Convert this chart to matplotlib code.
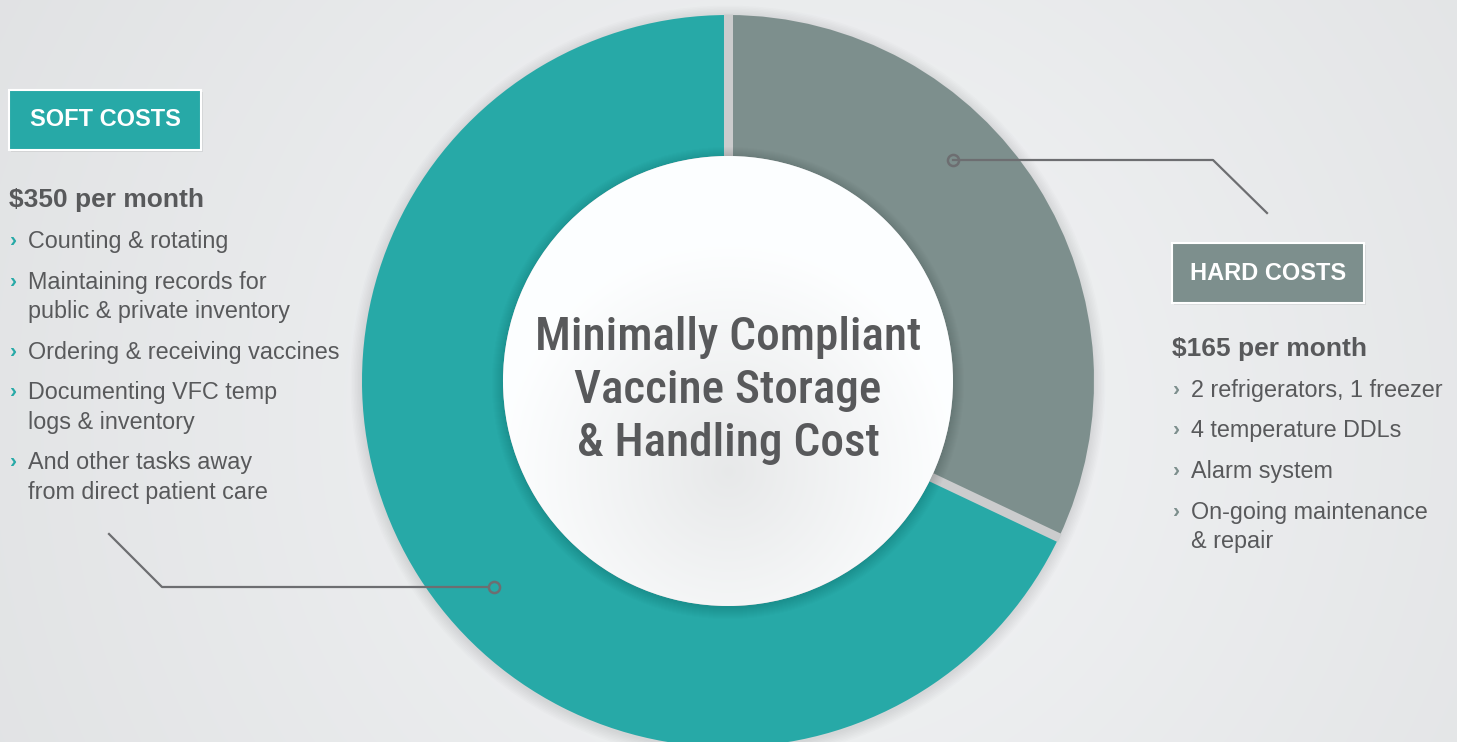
import numpy as np
import matplotlib.pyplot as plt
from matplotlib.patches import Circle, Rectangle

# data
labels = ['HARD COSTS', 'SOFT COSTS']
monthly_cost = [165, 350]
colors = ['#7d8f8d', '#27a9a7']
title_lines = ['Minimally Compliant', 'Vaccine Storage', '& Handling Cost']
soft_items = [['Counting & rotating'],
              ['Maintaining records for', 'public & private inventory'],
              ['Ordering & receiving vaccines'],
              ['Documenting VFC temp', 'logs & inventory'],
              ['And other tasks away', 'from direct patient care']]
hard_items = [['2 refrigerators, 1 freezer'],
              ['4 temperature DDLs'],
              ['Alarm system'],
              ['On-going maintenance', '& repair']]

W, H = 1457, 742
TXT = '#58595b'
LINE = '#6d6e71'
FONT = ['Liberation Sans', 'DejaVu Sans']
NARROW = ['Roboto Condensed', 'Liberation Sans', 'DejaVu Sans']

fig = plt.figure(figsize=(W / 100, H / 100), dpi=100)
ax = fig.add_axes([0, 0, 1, 1])

def py(y):
    return H - y

cx, cy = 728, py(381)
r_out, r_in = 366, 225

# background gradient
yy, xx = np.mgrid[0:H, 0:W]
d = np.hypot(xx - 800, yy - 420) / 900.0
bg = np.clip(0.965 - 0.07 * d, 0.88, 0.97)
bg_rgb = np.dstack([bg - 0.012, bg - 0.006, bg])
ax.imshow(bg_rgb, extent=[0, W, 0, H], origin='upper', zorder=0)

# soft shadow round the donut
for k in range(8):
    ax.add_patch(Circle((cx, cy - 2), r_out + 1 + k * 1.5, color='black',
                        alpha=0.012, lw=0, zorder=1))

# donut
wedges, _ = ax.pie(monthly_cost, colors=colors, startangle=90, counterclock=False,
                   center=(cx, cy), radius=r_out,
                   wedgeprops=dict(width=r_out - r_in, linewidth=0))
for w in wedges:
    w.set_zorder(2)

# separators between the segments
bounds = np.cumsum([0] + monthly_cost) / sum(monthly_cost)
for b in bounds[:-1]:
    ang = np.deg2rad(90 - 360 * b)
    ax.plot([cx + r_in * np.cos(ang), cx + (r_out + 1) * np.cos(ang)],
            [cy + r_in * np.sin(ang), cy + (r_out + 1) * np.sin(ang)],
            color='#cbcccd', lw=6.5, solid_capstyle='butt', zorder=3)

# inner circle shadow
for k in range(12):
    ax.add_patch(Circle((cx, cy - 2), r_in + k * 1.0, color='black',
                        alpha=0.01, lw=0, zorder=4))

# inner circle with light gradient
n = 400
gy, gx = np.mgrid[0:n, 0:n]
gd = np.hypot(gx - n * 0.5, gy - n * 0.7) / (n * 0.5)
shade = np.clip(0.915 + 0.085 * gd, 0.91, 1.0)
inner_img = np.dstack([shade - 0.008, shade - 0.003, shade])
im = ax.imshow(inner_img, extent=[cx - r_in, cx + r_in, cy - r_in, cy + r_in],
               origin='upper', zorder=5)
clip = Circle((cx, cy), r_in, transform=ax.transData)
im.set_clip_path(clip)

# centre title
for i, line in enumerate(title_lines):
    ax.text(cx, py(350 + 53 * i), line, ha='center', va='baseline', fontsize=34,
            fontweight='medium', color=TXT, family=NARROW, zorder=6)

# label boxes
def label_box(x0, y0, label, color):
    ax.add_patch(Rectangle((x0 + 2, py(y0 + 62)), 192, 60, color='black',
                           alpha=0.07, lw=0, zorder=6))
    ax.add_patch(Rectangle((x0, py(y0 + 60)), 192, 60, facecolor=color,
                           edgecolor='white', lw=1.5, zorder=7))
    ax.text(x0 + 96, py(y0 + 30), label, ha='center', va='center', fontsize=17,
            fontweight='bold', color='white', family=FONT, zorder=8)

label_box(9, 90, labels[1], colors[1])
label_box(1172, 243, labels[0], colors[0])

def item_list(x0, y_head, value, items, chev_color):
    ax.text(x0, py(y_head), '$%d per month' % value, ha='left', va='baseline',
            fontsize=19, fontweight='bold', color=TXT, family=FONT, zorder=8)
    y = y_head + 41
    for item in items:
        ax.text(x0 + 1, py(y - 2), '›', ha='left', va='baseline', fontsize=15,
                fontweight='bold', color=chev_color, family=FONT, zorder=8)
        for j, line in enumerate(item):
            ax.text(x0 + 19, py(y + 29.5 * j), line, ha='left', va='baseline',
                    fontsize=16.8, color=TXT, family=FONT, zorder=8)
        y += 29.5 * (len(item) - 1) + 40.5

item_list(9, 207, monthly_cost[1], soft_items, colors[1])
item_list(1172, 356, monthly_cost[0], hard_items, colors[0])

# leader lines
ax.plot([953, 1213, 1267], [py(160), py(160), py(213)], color=LINE, lw=1.6, zorder=9)
ax.plot([953], [py(160)], 'o', ms=8, mfc='none', mec=LINE, mew=1.8, zorder=10)
ax.plot([109, 162, 494], [py(534), py(587), py(587)], color=LINE, lw=1.6, zorder=9)
ax.plot([494], [py(587)], 'o', ms=8, mfc=colors[1], mec=LINE, mew=1.8, zorder=10)

ax.set_xlim(0, W)
ax.set_ylim(0, H)
ax.set_aspect('auto')
ax.axis('off')

fig.savefig('out.png', dpi=100)
